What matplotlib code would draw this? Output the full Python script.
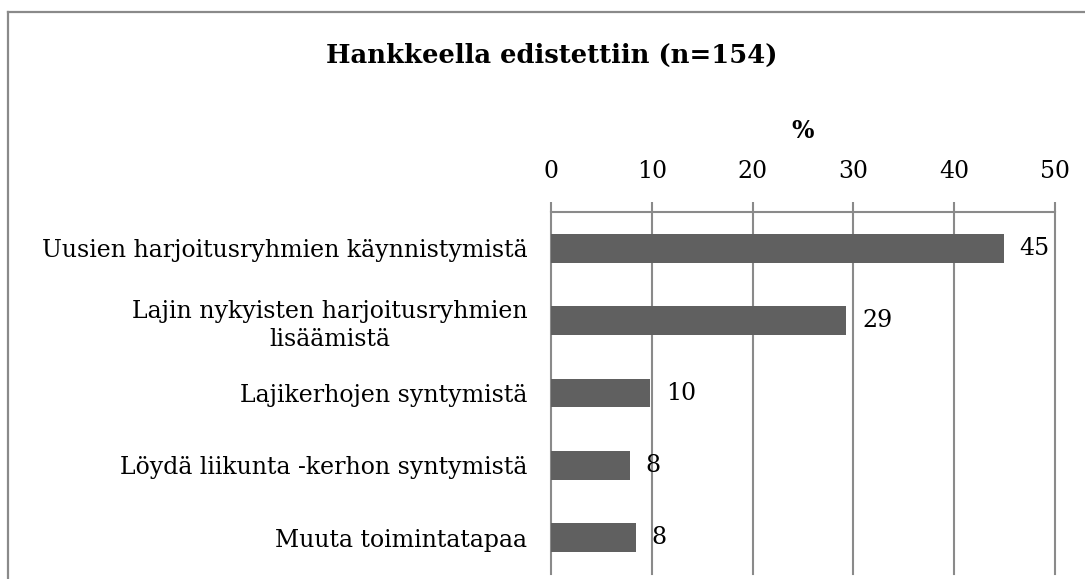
import matplotlib
matplotlib.use("Agg")
import matplotlib.pyplot as plt
from matplotlib.lines import Line2D

CATEGORIES = [
    "Uusien harjoitusryhmien käynnistymistä",
    "Lajin nykyisten harjoitusryhmien\nlisäämistä",
    "Lajikerhojen syntymistä",
    "Löydä liikunta -kerhon syntymistä",
    "Muuta toimintatapaa",
]
VALUES = [44.9, 29.3, 9.8, 7.8, 8.4]
LABELS = ["45", "29", "10", "8", "8"]
TICKS = [0, 10, 20, 30, 40, 50]

BAR, GRID, INK = "#606060", "#8a8a8a", "#000000"
plt.rcParams["font.family"] = ["DejaVu Serif"]
FS = 17

W, H = 1085, 579
fig = plt.figure(figsize=(W / 100, H / 100), dpi=100)

# outer chart frame (cut off at right and bottom in the source)
fig.add_artist(Line2D([8 / W, 8 / W], [0, 1 - 12 / H], color=GRID, lw=1.6))
fig.add_artist(Line2D([8 / W, 1], [1 - 12 / H, 1 - 12 / H], color=GRID, lw=1.6))

x0, x1, ytop, ybot = 551, 1055, 212, 574
ax = fig.add_axes([x0 / W, 1 - ybot / H, (x1 - x0) / W, (ybot - ytop) / H])

y = list(range(len(CATEGORIES)))
ax.barh(y, VALUES, height=0.4, color=BAR, zorder=3)
for yi, v, lab in zip(y, VALUES, LABELS):
    ax.annotate(lab, (v, yi), xytext=(11.5, 0), textcoords="offset points",
                va="center", ha="left", fontsize=FS, color=INK)

ax.set_xlim(0, 50)
ax.set_ylim(len(CATEGORIES) - 0.5, -0.5)
ax.set_xticks(TICKS)
ax.xaxis.tick_top()
ax.xaxis.set_label_position("top")
ax.tick_params(axis="x", direction="out", length=7, width=1.5, color=GRID,
               pad=14, labelsize=FS)
ax.set_yticks(y)
ax.set_yticklabels(CATEGORIES, fontsize=FS)
for t in ax.get_yticklabels():
    t.set_multialignment("center")
    t.set_linespacing(1.3)
ax.tick_params(axis="y", length=0, pad=17)
ax.grid(axis="x", color=GRID, lw=1.5, zorder=0)
for gl in ax.get_xgridlines():
    gl.set_clip_on(False)
for s in ["left", "right", "bottom"]:
    ax.spines[s].set_visible(False)
ax.spines["top"].set_color(GRID)
ax.spines["top"].set_linewidth(1.5)

ax.set_xlabel("%", fontsize=FS, fontweight="bold", labelpad=16)
fig.text(552 / W, 1 - 55 / H, "Hankkeella edistettiin (n=154)", fontsize=18.6,
         fontweight="bold", ha="center", va="center")

fig.savefig("out.png", dpi=100)
